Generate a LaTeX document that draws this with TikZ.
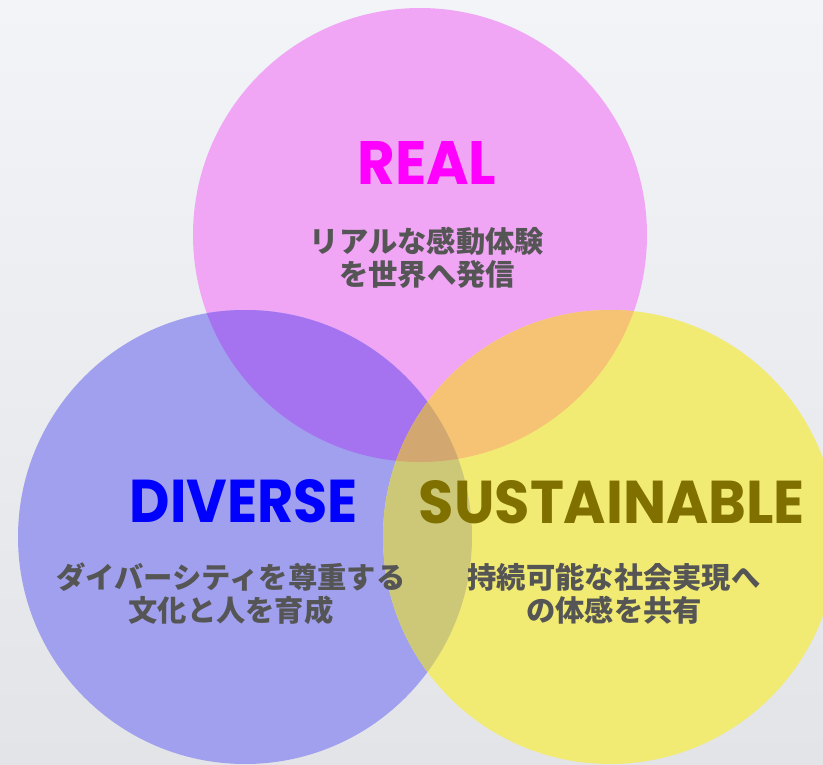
\documentclass[tikz,border=0pt]{standalone}
\usepackage{fontspec}
\usepackage{graphicx}
\newfontfamily\jpfont{Noto Sans CJK JP}
\newfontfamily\titlefont{Poppins}
\definecolor{bgtop}{RGB}{242,244,248}
\definecolor{bgbot}{RGB}{226,228,232}
\definecolor{pinkc}{RGB}{240,165,245}
\definecolor{bluec}{RGB}{160,160,238}
\definecolor{yellowc}{RGB}{242,235,115}
\definecolor{pbc}{RGB}{165,115,240}
\definecolor{pyc}{RGB}{245,195,115}
\definecolor{byc}{RGB}{205,200,120}
\definecolor{pbyc}{RGB}{210,168,112}
\definecolor{realc}{RGB}{255,0,255}
\definecolor{diversec}{RGB}{0,0,255}
\definecolor{sustc}{RGB}{128,112,0}
\definecolor{jptext}{RGB}{85,85,85}
\tikzset{
  titletext/.style={inner sep=0pt, anchor=center, font=\titlefont\bfseries},
  jptextstyle/.style={inner sep=0pt, anchor=center, text=jptext, font=\jpfont\bfseries\fontsize{29.3pt}{33pt}\selectfont, align=center}
}
\newcommand{\realcirc}{(420pt,-235pt) circle [radius=227pt]}
\newcommand{\bluecirc}{(245pt,-537pt) circle [radius=227pt]}
\newcommand{\yelcirc}{(610pt,-537pt) circle [radius=227pt]}
\begin{document}
\begin{tikzpicture}[x=1pt,y=-1pt]
\useasboundingbox (0,0) rectangle (823,765);
\shade[top color=bgtop, bottom color=bgbot] (0,0) rectangle (823,765);
% circles
\fill[pinkc] \realcirc;
\fill[bluec] \bluecirc;
\fill[yellowc] \yelcirc;
\begin{scope}
  \clip \realcirc;
  \fill[pbc] \bluecirc;
  \fill[pyc] \yelcirc;
\end{scope}
\begin{scope}
  \clip \bluecirc;
  \fill[byc] \yelcirc;
\end{scope}
\begin{scope}
  \clip \realcirc;
  \clip \bluecirc;
  \fill[pbyc] \yelcirc;
\end{scope}
% titles
\node[titletext, text=realc] (realT) at (427,163) {\resizebox{139pt}{43pt}{REAL}};
\node[titletext, text=diversec] (diverseT) at (244,501) {\resizebox{228pt}{43pt}{DIVERSE}};
\node[titletext, text=sustc] (sustT) at (612,502) {\resizebox{386pt}{43pt}{SUSTAINABLE}};
% descriptions
\node[jptextstyle] (realD) at (427,258) {リアルな感動体験\\を世界へ発信};
\node[jptextstyle] (diverseD) at (231,594) {ダイバーシティを尊重する\\文化と人を育成};
\node[jptextstyle] (sustD) at (614,594) {持続可能な社会実現へ\\の体感を共有};
\end{tikzpicture}
\end{document}
